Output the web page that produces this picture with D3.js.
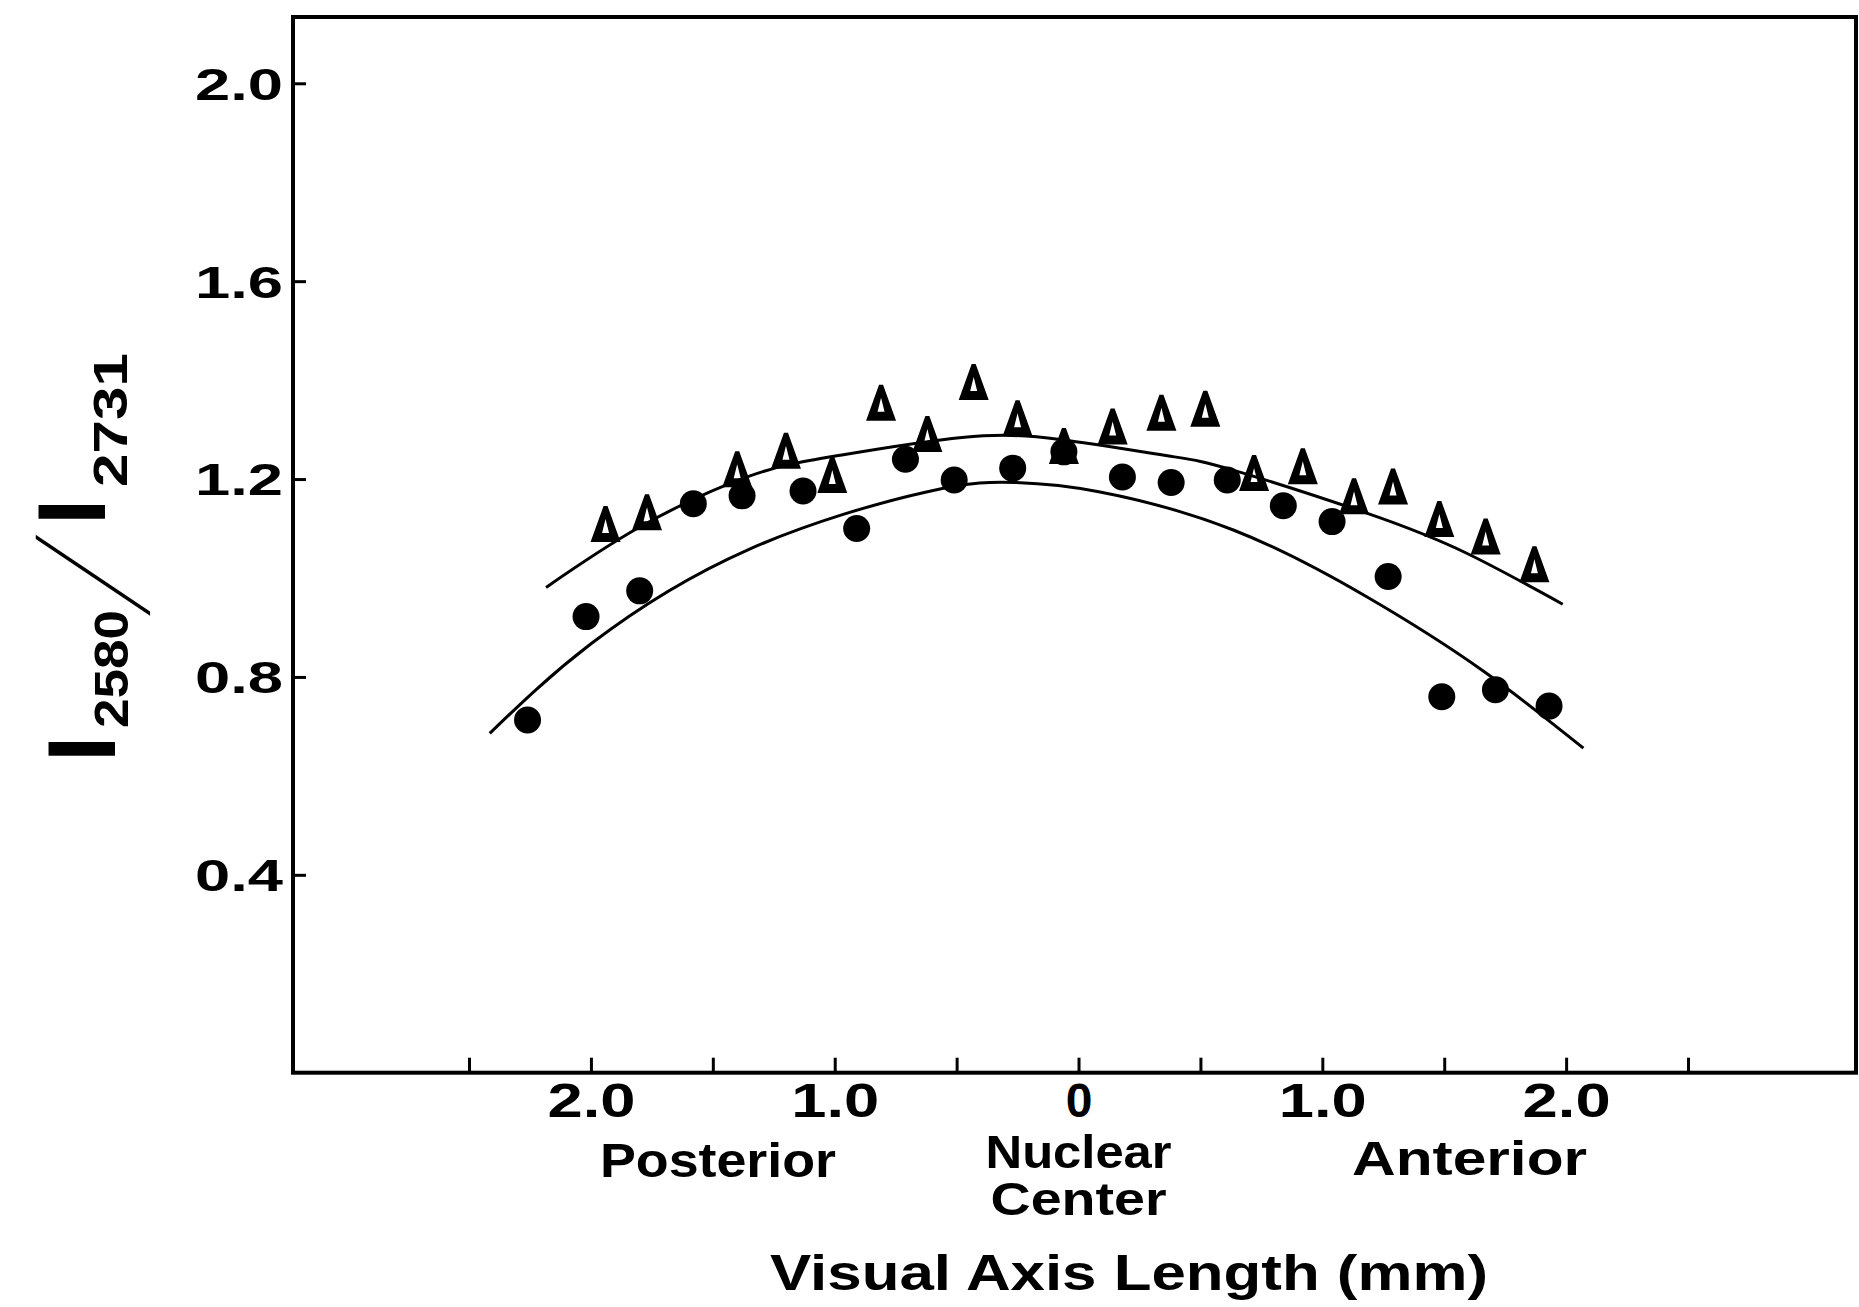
<!DOCTYPE html>
<html>
<head>
<meta charset="utf-8">
<script src="https://cdnjs.cloudflare.com/ajax/libs/d3/7.8.5/d3.min.js"></script>
<style>
  body { margin: 0; background: #fff; }
  svg { display: block; font-family: "Liberation Sans", Arial, sans-serif; }
</style>
</head>
<body>
<div id="chart"></div>
<script>
// filled circles (mm from nuclear center, posterior negative)
const circleX = [-2.26, -2.02, -1.80, -1.58, -1.38, -1.13, -0.91, -0.71, -0.51, -0.27, -0.06,
  0.18, 0.38, 0.61, 0.84, 1.04, 1.27, 1.49, 1.71, 1.93];
const circleY = [0.713, 0.922, 0.974, 1.150, 1.166, 1.176, 1.100, 1.240, 1.198, 1.222, 1.255,
  1.204, 1.193, 1.198, 1.146, 1.114, 1.003, 0.760, 0.774, 0.741];

// open triangles
const triangleX = [-1.94, -1.77, -1.40, -1.20, -1.01, -0.81, -0.62, -0.43, -0.25, -0.06,
  0.14, 0.34, 0.52, 0.72, 0.92, 1.13, 1.29, 1.48, 1.67, 1.87];
const triangleY = [1.107, 1.131, 1.218, 1.255, 1.206, 1.352, 1.289, 1.394, 1.321, 1.265,
  1.304, 1.332, 1.340, 1.210, 1.224, 1.163, 1.183, 1.117, 1.082, 1.026];

// fitted curves
const upperFitX = [-2.184, -1.796, -1.356, -0.991, -0.478, -0.076, 0.365, 0.634, 1.182, 1.592, 1.986];
const upperFitY = [0.981, 1.104, 1.205, 1.247, 1.284, 1.280, 1.247, 1.218, 1.131, 1.050, 0.947];
const lowerFitX = [-2.415, -1.997, -1.356, -0.624, -0.258, 0.088, 0.635, 1.182, 1.660, 2.071];
const lowerFitY = [0.686, 0.868, 1.057, 1.174, 1.193, 1.174, 1.097, 0.962, 0.812, 0.656];

const yTickValues = [0.4, 0.8, 1.2, 1.6, 2.0];
const yTickLabels = ["0.4", "0.8", "1.2", "1.6", "2.0"];
const xTickValues = [-2.5, -2, -1.5, -1, -0.5, 0, 0.5, 1, 1.5, 2, 2.5];
const xTickLabels = ["", "2.0", "", "1.0", "", "0", "", "1.0", "", "2.0", ""];

const svgWidth = 1859;
const svgHeight = 1307;
const plot = { left: 293, right: 1856, top: 17, bottom: 1072.7 };

const svg = d3.select("#chart")
  .append("svg")
  .attr("width", svgWidth)
  .attr("height", svgHeight);

svg.append("rect")
  .attr("width", svgWidth)
  .attr("height", svgHeight)
  .attr("fill", "#fff");

const xScale = d3.scaleLinear()
  .domain([-3.222, 3.189])
  .range([plot.left, plot.right]);

const yScale = d3.scaleLinear()
  .domain([0, 2.134])
  .range([plot.bottom, plot.top]);

// frame
svg.append("rect")
  .attr("x", plot.left)
  .attr("y", plot.top)
  .attr("width", plot.right - plot.left)
  .attr("height", plot.bottom - plot.top)
  .attr("fill", "none")
  .attr("stroke", "#000")
  .attr("stroke-width", 4);

// y axis, ticks pointing inward
const leftAxis = d3.axisLeft(yScale)
  .tickValues(yTickValues)
  .tickFormat((d, i) => yTickLabels[i])
  .tickSize(-13)
  .tickPadding(10);

const yAxisG = svg.append("g")
  .attr("transform", `translate(${plot.left},0)`)
  .call(leftAxis)
  .attr("font-size", null)
  .attr("font-family", null);
yAxisG.select(".domain").remove();
yAxisG.selectAll("line").attr("stroke", "#000").attr("stroke-width", 3);
yAxisG.selectAll("text")
  .attr("fill", "#000")
  .attr("font-size", 44)
  .attr("font-weight", "bold")
  .attr("dy", "0.36em")
  .attr("textLength", 88)
  .attr("lengthAdjust", "spacingAndGlyphs");

// x axis
const bottomAxis = d3.axisBottom(xScale)
  .tickValues(xTickValues)
  .tickFormat((d, i) => xTickLabels[i])
  .tickSize(-15)
  .tickPadding(10);

const xAxisG = svg.append("g")
  .attr("transform", `translate(0,${plot.bottom})`)
  .call(bottomAxis)
  .attr("font-size", null)
  .attr("font-family", null);
xAxisG.select(".domain").remove();
xAxisG.selectAll("line").attr("stroke", "#000").attr("stroke-width", 3);
xAxisG.selectAll("text")
  .attr("fill", "#000")
  .attr("font-size", 48)
  .attr("font-weight", "bold")
  .attr("textLength", function() { return this.textContent.length > 1 ? 88 : null; })
  .attr("lengthAdjust", "spacingAndGlyphs");

// fitted curves
const line = d3.line()
  .x(d => xScale(d[0]))
  .y(d => yScale(d[1]))
  .curve(d3.curveNatural);

[d3.zip(upperFitX, upperFitY), d3.zip(lowerFitX, lowerFitY)].forEach(pts => {
  svg.append("path")
    .attr("d", line(pts))
    .attr("fill", "none")
    .attr("stroke", "#000")
    .attr("stroke-width", 3);
});

// circles
svg.append("g").selectAll("circle")
  .data(d3.zip(circleX, circleY))
  .enter()
  .append("circle")
  .attr("cx", d => xScale(d[0]))
  .attr("cy", d => yScale(d[1]))
  .attr("r", 13.5)
  .attr("fill", "#000");

// open triangles: thick outline with a small hole
const triPath = "M-2,-19 L2,-19 L15,17 L-15,17 Z M0,-6 L-3.5,8 L3.5,8 Z";
svg.append("g").selectAll("path")
  .data(d3.zip(triangleX, triangleY))
  .enter()
  .append("path")
  .attr("d", triPath)
  .attr("fill-rule", "evenodd")
  .attr("fill", "#000")
  .attr("transform", d => `translate(${xScale(d[0])},${yScale(d[1])})`);

// region labels under the axis
function label(text, x, y, size, len) {
  svg.append("text")
    .attr("x", x)
    .attr("y", y)
    .attr("text-anchor", "middle")
    .attr("font-size", size)
    .attr("font-weight", "bold")
    .attr("textLength", len)
    .attr("lengthAdjust", "spacingAndGlyphs")
    .text(text);
}
label("Posterior", xScale(-1.479), 1177, 48, 236);
label("Nuclear", xScale(0), 1168, 46, 186);
label("Center", xScale(0), 1215, 46, 176);
label("Anterior", xScale(1.604), 1175, 48, 235);
label("Visual Axis Length (mm)", 1129, 1290, 50, 718);

// y axis title: I2580 / I2731, rotated
const yTitle = svg.append("g");
function rotText(text, x, y, size, weight, len) {
  const t = yTitle.append("text")
    .attr("transform", `translate(${x},${y}) rotate(-90)`)
    .attr("text-anchor", "middle")
    .attr("font-size", size)
    .attr("font-weight", weight)
    .text(text);
  if (len) t.attr("textLength", len).attr("lengthAdjust", "spacingAndGlyphs");
  return t;
}
rotText("I", 115, 749, 96, "bold");
rotText("2580", 128, 669, 48, "bold", 118);
rotText("I", 105, 512, 96, "bold");
rotText("2731", 127, 420, 48, "bold", 134);
yTitle.append("text")
  .attr("transform", "translate(141,588) rotate(-90) skewX(-16)")
  .attr("text-anchor", "middle")
  .attr("font-size", 148)
  .attr("font-weight", 100)
  .attr("font-family", "Roboto, Inter, 'Open Sans', sans-serif")
  .text("/");
</script>
</body>
</html>
